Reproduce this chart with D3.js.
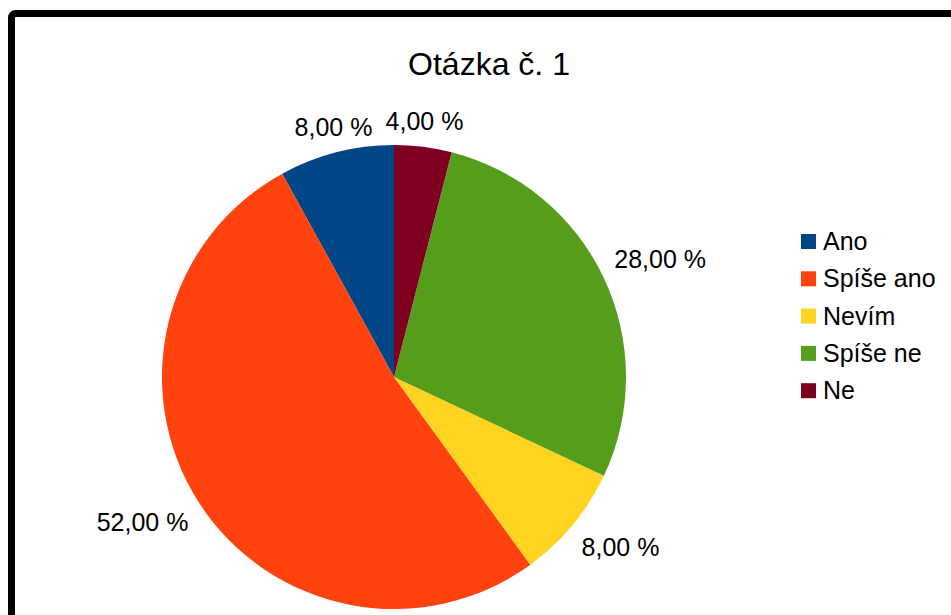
<!DOCTYPE html>
<html>
<head>
<meta charset="utf-8">
<script src="https://cdn.jsdelivr.net/npm/d3@7"></script>
<style>
  html, body { margin: 0; padding: 0; background: #fff; overflow: hidden; }
  text { font-family: "Liberation Sans", Arial, sans-serif; fill: #000; }
</style>
</head>
<body>
<svg id="chart" width="951" height="615"></svg>
<script>
// data
var categories = ["Ano", "Spíše ano", "Nevím", "Spíše ne", "Ne"];
var values = [8, 52, 8, 28, 4];
var colors = ["#004586", "#ff420e", "#ffd320", "#579d1c", "#7e0021"];
var title = "Otázka č. 1";

var svg = d3.select("#chart");

// frame (runs off the right and bottom edge like the screenshot)
svg.append("rect")
  .attr("x", 11.5).attr("y", 13.5)
  .attr("width", 1000).attr("height", 700)
  .attr("rx", 4)
  .attr("fill", "#fff")
  .attr("stroke", "#000")
  .attr("stroke-width", 7);

svg.append("text")
  .attr("x", 489).attr("y", 75)
  .attr("text-anchor", "middle")
  .attr("font-size", 32)
  .text(title);

var cx = 394, cy = 377, r = 232;

var color = d3.scaleOrdinal().domain(categories).range(colors);

// counterclockwise from 12 o'clock, as LibreOffice does it
var pie = d3.pie()
  .sort(null)
  .startAngle(0)
  .endAngle(-2 * Math.PI)
  .value(function (d) { return d.value; });

var arc = d3.arc().innerRadius(0).outerRadius(r);

var rows = categories.map(function (c, i) { return {name: c, value: values[i]}; });
var total = d3.sum(values);
var fmt = function (v) { return d3.format(".2f")(v / total * 100).replace(".", ",") + " %"; };

var g = svg.append("g").attr("transform", "translate(" + cx + "," + cy + ")");

var slices = pie(rows);

g.selectAll("path.slice")
  .data(slices)
  .enter().append("path")
  .attr("class", "slice")
  .attr("d", arc)
  .attr("fill", function (d) { return color(d.data.name); });

// label anchor sits just outside the rim; the side of the text box that
// touches it depends on the sector (8 sectors of 45deg)
var labelR = r + 11.5;
var boxH = 29;
g.selectAll("text.lbl")
  .data(slices)
  .enter().append("text")
  .attr("class", "lbl")
  .attr("font-size", 25)
  .attr("dominant-baseline", "central")
  .text(function (d) { return fmt(d.data.value); })
  .each(function (d) {
    var a = (d.startAngle + d.endAngle) / 2;
    var ax = Math.sin(a) * labelR;
    var ay = -Math.cos(a) * labelR;
    var deg = ((90 - a * 180 / Math.PI) % 360 + 360) % 360; // math angle
    var anchor = "middle", dy = 0;
    if (deg <= 22.5 || deg >= 337.5) { anchor = "start"; }
    else if (deg < 67.5) { anchor = "start"; dy = -boxH / 2; }
    else if (deg < 112.5) { anchor = "middle"; dy = -boxH / 2; }
    else if (deg <= 157.5) { anchor = "end"; dy = -boxH / 2; }
    else if (deg <= 202.5) { anchor = "end"; }
    else if (deg < 247.5) { anchor = "end"; dy = boxH / 2; }
    else if (deg < 292.5) { anchor = "middle"; dy = boxH / 2; }
    else { anchor = "start"; dy = boxH / 2; }
    d3.select(this)
      .attr("text-anchor", anchor)
      .attr("x", ax)
      .attr("y", ay + dy);
  });

// legend
var legend = svg.append("g").attr("transform", "translate(801,234)");
var item = legend.selectAll("g")
  .data(categories)
  .enter().append("g")
  .attr("transform", function (d, i) { return "translate(0," + (i * 37.3) + ")"; });

item.append("rect")
  .attr("width", 15).attr("height", 15)
  .attr("fill", function (d) { return color(d); });

item.append("text")
  .attr("x", 22).attr("y", 16)
  .attr("font-size", 25)
  .text(function (d) { return d; });
</script>
</body>
</html>
